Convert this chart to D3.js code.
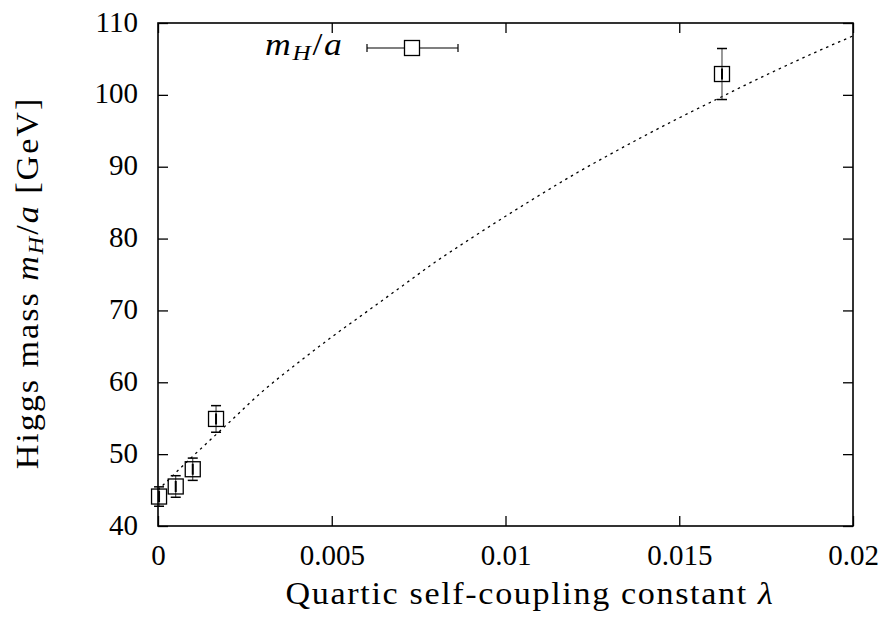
<!DOCTYPE html>
<html>
<head>
<meta charset="utf-8">
<script src="https://cdn.jsdelivr.net/npm/d3@7"></script>
<style>
  body { margin: 0; background: #fff; }
  text { font-family: "Liberation Serif", "DejaVu Serif", serif; fill: #000; }
</style>
</head>
<body>
<svg id="chart"></svg>
<script>
var width = 888
var height = 619

// measured points: lambda, m_H/a and its error
var lambdaValues = [0.00003, 0.00051, 0.00100, 0.00167, 0.01623]
var massValues = [44.1, 45.5, 47.9, 54.9, 102.9]
var massErrors = [1.35, 1.5, 1.55, 1.85, 3.55]

// fit curve
var fitLambda = [0, 0.001, 0.002, 0.003, 0.004, 0.005, 0.006, 0.007, 0.008, 0.009, 0.01,
                 0.011, 0.012, 0.013, 0.014, 0.015, 0.016, 0.017, 0.018, 0.019, 0.02]
var fitMass = [45.0, 49.7, 54.2, 58.7, 62.6, 66.3, 69.8, 73.3, 76.8, 80.0, 83.1,
               86.1, 89.0, 91.7, 94.3, 96.8, 99.2, 101.6, 103.9, 106.1, 108.2]

var xTicks = [0, 0.005, 0.01, 0.015, 0.02]
var xTickLabels = ["0", "0.005", "0.01", "0.015", "0.02"]
var yTicks = [40, 50, 60, 70, 80, 90, 100, 110]

var plotLeft = 158, plotRight = 853, plotTop = 23, plotBottom = 526
var fontSize = 29

var svg = d3.select("#chart")
    .attr("width", width)
    .attr("height", height)
    .style("background", "#fff")

var x = d3.scaleLinear().domain([0, 0.02]).range([plotLeft, plotRight])
var y = d3.scaleLinear().domain([40, 110]).range([plotBottom, plotTop])

// axes, ticks pointing inward on all four sides
var xAxis = svg.append("g")
    .attr("transform", "translate(0," + plotBottom + ")")
    .call(d3.axisBottom(x).tickValues(xTicks).tickSizeInner(-10).tickSizeOuter(0)
        .tickFormat((d, i) => xTickLabels[i]))
var yAxis = svg.append("g")
    .attr("transform", "translate(" + plotLeft + ",0)")
    .call(d3.axisLeft(y).tickValues(yTicks).tickSizeInner(-10).tickSizeOuter(0)
        .tickFormat(d => d))
var xTop = svg.append("g")
    .attr("transform", "translate(0," + plotTop + ")")
    .call(d3.axisTop(x).tickValues(xTicks).tickSizeInner(-10).tickSizeOuter(0).tickFormat(""))
var yRight = svg.append("g")
    .attr("transform", "translate(" + plotRight + ",0)")
    .call(d3.axisRight(y).tickValues(yTicks).tickSizeInner(-10).tickSizeOuter(0).tickFormat(""))

;[xAxis, yAxis, xTop, yRight].forEach(g => {
    g.select(".domain").remove()
    g.attr("font-family", null)
    g.selectAll(".tick line").attr("stroke", "#000").attr("stroke-width", 1.3)
})
xAxis.selectAll(".tick text")
    .attr("y", 39).attr("dy", null)
    .attr("font-size", fontSize + "px")
yAxis.selectAll(".tick text")
    .attr("x", -20).attr("dy", "8")
    .attr("font-size", fontSize + "px")

// frame
svg.append("rect")
    .attr("x", plotLeft).attr("y", plotTop)
    .attr("width", plotRight - plotLeft).attr("height", plotBottom - plotTop)
    .attr("fill", "none").attr("stroke", "#000").attr("stroke-width", 1.6)

// dotted fit line
var fitData = fitLambda.map((l, i) => [l, fitMass[i]])
svg.append("path")
    .datum(fitData)
    .attr("d", d3.line().x(d => x(d[0])).y(d => y(d[1])).curve(d3.curveMonotoneX))
    .attr("fill", "none")
    .attr("stroke", "#000")
    .attr("stroke-width", 1.3)
    .attr("stroke-dasharray", "2.5,4")

// error bars and square markers
var half = 7.5, cap = 5
var pts = svg.append("g")
lambdaValues.forEach((l, i) => {
    var cx = x(l), cy = y(massValues[i])
    var y1 = y(massValues[i] + massErrors[i]), y2 = y(massValues[i] - massErrors[i])
    pts.append("line").attr("x1", cx).attr("x2", cx).attr("y1", y1).attr("y2", y2)
        .attr("stroke", "#333").attr("stroke-width", 1)
    pts.append("line").attr("x1", cx).attr("x2", cx).attr("y1", cy - half + 2).attr("y2", cy + half - 2)
        .attr("stroke", "#000").attr("stroke-width", 2)
    ;[y1, y2].forEach(yy => pts.append("line")
        .attr("x1", cx - cap).attr("x2", cx + cap).attr("y1", yy).attr("y2", yy)
        .attr("stroke", "#000").attr("stroke-width", 1.5))
    pts.append("rect")
        .attr("x", cx - half).attr("y", cy - half)
        .attr("width", 2 * half).attr("height", 2 * half)
        .attr("fill", "none").attr("stroke", "#000").attr("stroke-width", 1.3)
})

// legend
var legY = 48
var leg = svg.append("g")
var legText = leg.append("text")
    .attr("transform", "translate(265,55) scale(1.15,1)")
    .attr("font-size", "31px").attr("letter-spacing", "1.5px")
legText.append("tspan").attr("font-style", "italic").text("m")
legText.append("tspan").attr("font-style", "italic").attr("font-size", "22px").attr("dy", 5).text("H")
legText.append("tspan").attr("dy", -5).text("/")
legText.append("tspan").attr("font-style", "italic").text("a")
leg.append("line").attr("x1", 367).attr("x2", 458).attr("y1", legY).attr("y2", legY)
    .attr("stroke", "#000").attr("stroke-width", 1.2)
;[367, 458].forEach(xx => leg.append("line")
    .attr("x1", xx).attr("x2", xx).attr("y1", legY - 4).attr("y2", legY + 4)
    .attr("stroke", "#000").attr("stroke-width", 1.2))
leg.append("rect").attr("x", 412 - half).attr("y", legY - half)
    .attr("width", 2 * half).attr("height", 2 * half)
    .attr("fill", "#fff").attr("stroke", "#000").attr("stroke-width", 1.3)

// axis titles, a little widened to come near the Computer Modern look
var xTitle = svg.append("text")
    .attr("transform", "translate(530,604) scale(1.1,1)")
    .attr("text-anchor", "middle")
    .attr("font-size", "31px").attr("letter-spacing", "1.5px")
xTitle.append("tspan").text("Quartic self-coupling constant ")
xTitle.append("tspan").attr("font-style", "italic").text("λ")

var yTitle = svg.append("text")
    .attr("transform", "translate(38,283) rotate(-90) scale(1.1,1)")
    .attr("text-anchor", "middle")
    .attr("font-size", "31px").attr("letter-spacing", "1.8px")
yTitle.append("tspan").text("Higgs mass ")
yTitle.append("tspan").attr("font-style", "italic").text("m")
yTitle.append("tspan").attr("font-style", "italic").attr("font-size", "22px").attr("dy", 5).text("H")
yTitle.append("tspan").attr("dy", -5).text("/")
yTitle.append("tspan").attr("font-style", "italic").text("a")
yTitle.append("tspan").text(" [GeV]")
</script>
</body>
</html>
